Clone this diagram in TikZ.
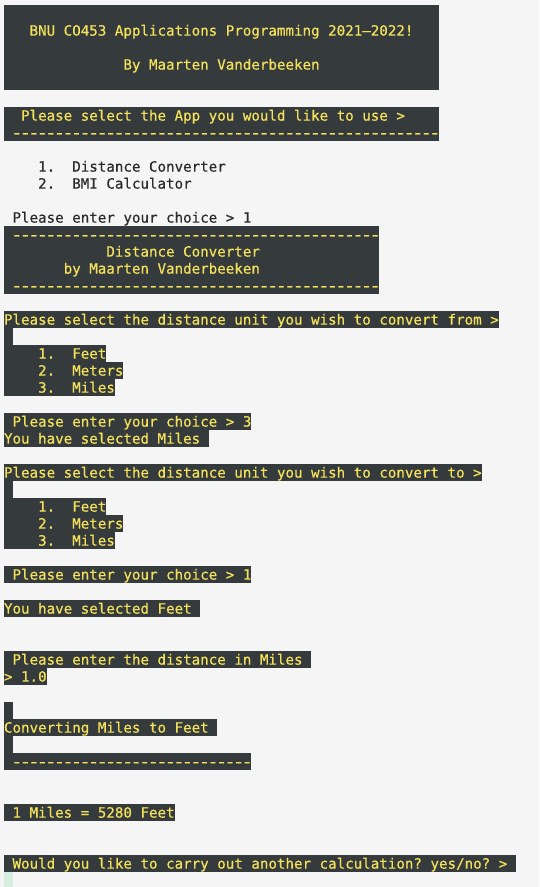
\documentclass[tikz,border=0pt]{standalone}
\usepackage{fontspec}
\setmonofont{DejaVu Sans Mono}[FakeBold=0.5]
\definecolor{bgc}{HTML}{F5F5F5}
\definecolor{dk}{HTML}{353A3D}
\definecolor{yl}{HTML}{F3E15B}
\definecolor{tx}{HTML}{2B2B2B}
\definecolor{cur}{HTML}{D5EEE0}
\newcommand\cw{8.53}
\newcommand\HL[3]{\fill[hl] (4,{5+(#1-1)*17}) rectangle ({4+#3*\cw},{5+(#1-1+#2)*17});}
\newcommand\TX[5]{\node[#1] (#2) at ({4+#3*\cw},{5+(#4-1)*17+13.6}) {#5};}
\newcommand\dashes[1]{\foreach \i in {1,...,#1}{\makebox[0.602em][c]{\scalebox{1.35}[1]{-}}}}
\tikzset{
  hl/.style={fill=dk},
  term/.style={anchor=base west, inner sep=0pt, outer sep=0pt,
    font=\ttfamily\fontsize{14.17pt}{17pt}\selectfont},
  ytxt/.style={term, text=yl},
  dtxt/.style={term, text=tx}
}
\begin{document}
\begin{tikzpicture}[x=1pt,y=-1pt]
\useasboundingbox (0,0) rectangle (539,887);
\fill[bgc] (0,0) rectangle (539,887);
% header block
\HL{1}{5}{51}
\TX{ytxt}{title}{3}{2}{BNU CO453 Applications Programming 2021–2022!}
\TX{ytxt}{author}{14}{4}{By Maarten Vanderbeeken}
% app select
\HL{7}{2}{51}
\TX{ytxt}{appq}{2}{7}{Please select the App you would like to use >}
\TX{ytxt}{appd}{1}{8}{\dashes{50}}
\TX{dtxt}{app1}{4}{10}{1.~~Distance Converter}
\TX{dtxt}{app2}{4}{11}{2.~~BMI Calculator}
\TX{dtxt}{appc}{1}{13}{Please enter your choice > 1}
% distance converter header
\HL{14}{4}{44}
\TX{ytxt}{dcd1}{1}{14}{\dashes{43}}
\TX{ytxt}{dct}{12}{15}{Distance Converter}
\TX{ytxt}{dca}{7}{16}{by Maarten Vanderbeeken}
\TX{ytxt}{dcd2}{1}{17}{\dashes{43}}
% from
\HL{19}{1}{58}
\TX{ytxt}{fromq}{0}{19}{Please select the distance unit you wish to convert from >}
\HL{20}{1}{1}
\HL{21}{1}{12}
\HL{22}{1}{14}
\HL{23}{1}{13}
\TX{ytxt}{f1}{4}{21}{1.~~Feet}
\TX{ytxt}{f2}{4}{22}{2.~~Meters}
\TX{ytxt}{f3}{4}{23}{3.~~Miles}
\HL{25}{1}{29}
\TX{ytxt}{fc}{1}{25}{Please enter your choice > 3}
\HL{26}{1}{24}
\TX{ytxt}{fs}{0}{26}{You have selected Miles}
% to
\HL{28}{1}{56}
\TX{ytxt}{toq}{0}{28}{Please select the distance unit you wish to convert to >}
\HL{29}{1}{1}
\HL{30}{1}{12}
\HL{31}{1}{14}
\HL{32}{1}{13}
\TX{ytxt}{t1}{4}{30}{1.~~Feet}
\TX{ytxt}{t2}{4}{31}{2.~~Meters}
\TX{ytxt}{t3}{4}{32}{3.~~Miles}
\HL{34}{1}{29}
\TX{ytxt}{tc}{1}{34}{Please enter your choice > 1}
\HL{36}{1}{23}
\TX{ytxt}{ts}{0}{36}{You have selected Feet}
% distance
\HL{39}{1}{36}
\TX{ytxt}{dq}{1}{39}{Please enter the distance in Miles}
\HL{40}{1}{5}
\TX{ytxt}{dv}{0}{40}{> 1.0}
% converting
\HL{42}{1}{1}
\HL{43}{1}{25}
\TX{ytxt}{conv}{0}{43}{Converting Miles to Feet}
\HL{44}{1}{1}
\HL{45}{1}{29}
\TX{ytxt}{convd}{1}{45}{\dashes{28}}
% result
\HL{48}{1}{20}
\TX{ytxt}{res}{1}{48}{1 Miles = 5280 Feet}
\HL{51}{1}{60}
\TX{ytxt}{again}{1}{51}{Would you like to carry out another calculation? yes/no? >}
\fill[cur] (4,872) rectangle ({4+\cw},887);
\end{tikzpicture}
\end{document}
